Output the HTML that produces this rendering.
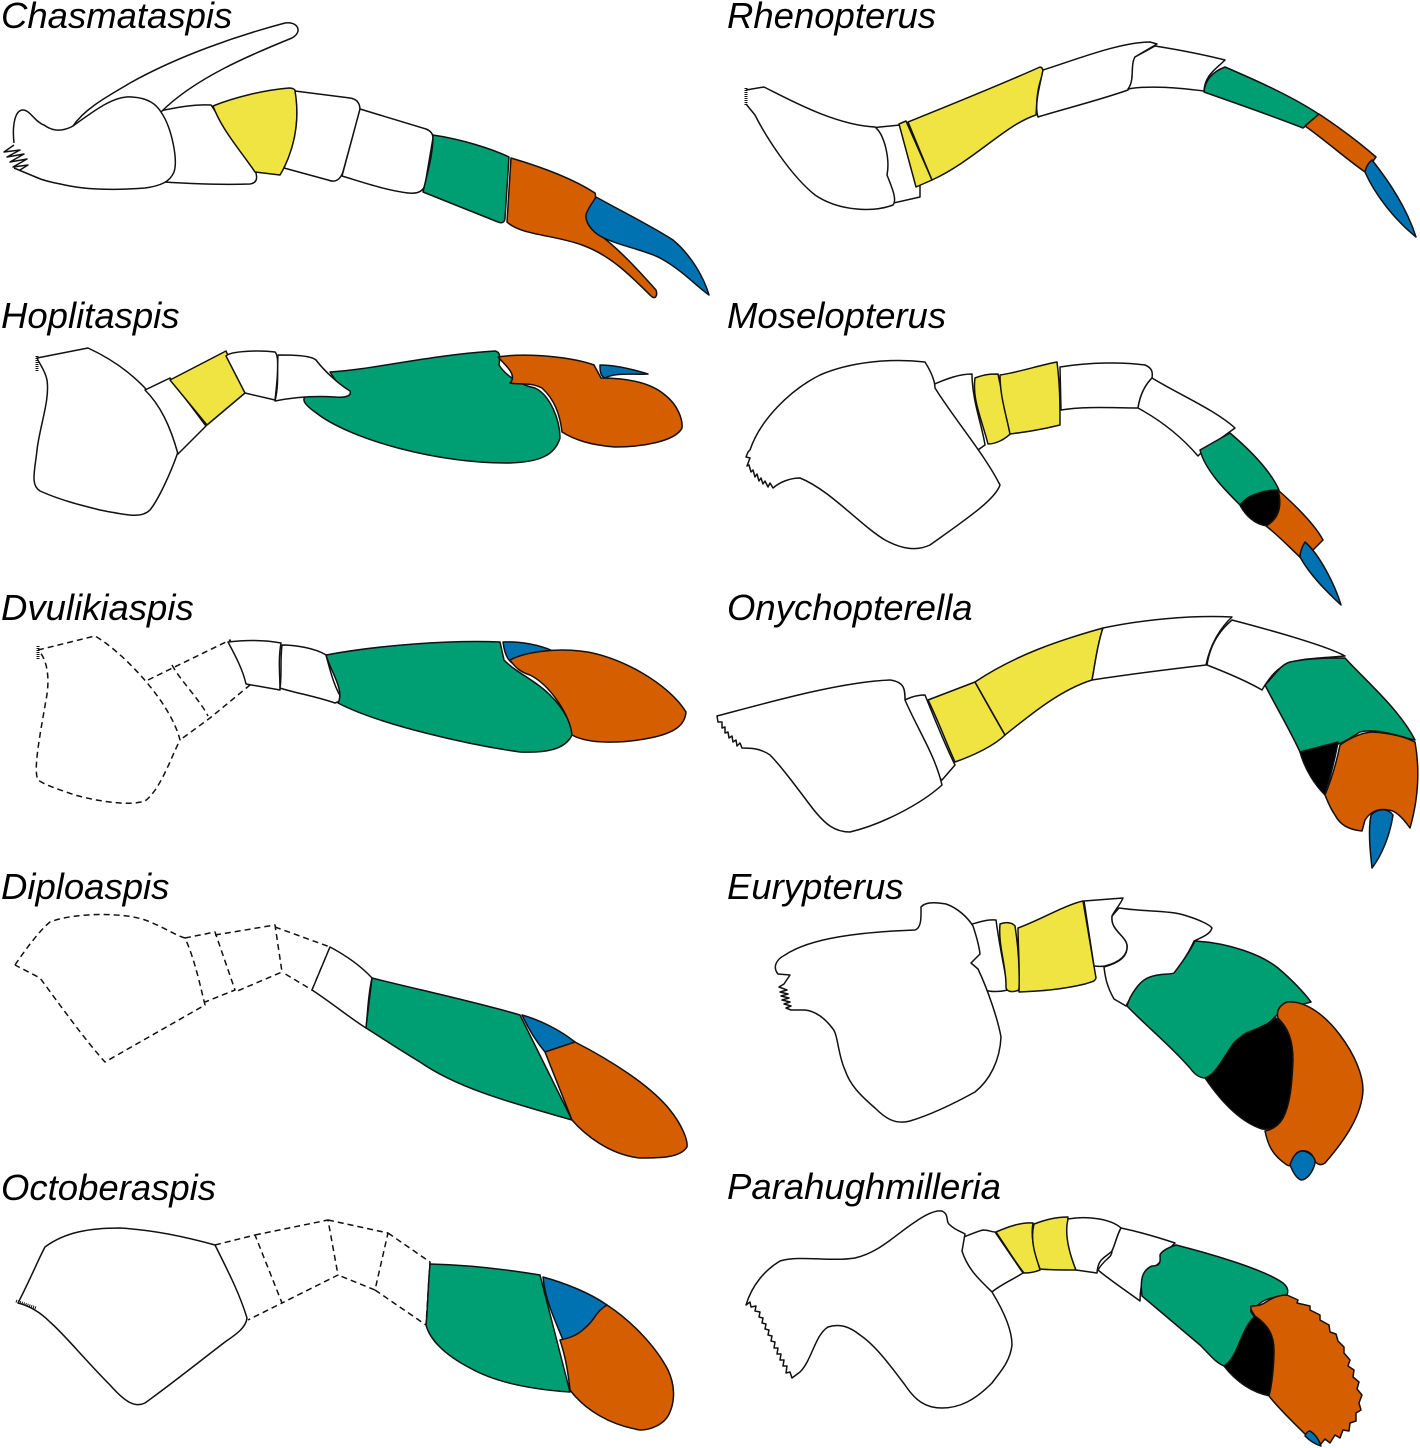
<!DOCTYPE html>
<html><head><meta charset="utf-8"><style>
html,body{margin:0;padding:0;background:#fff}
svg{display:block}
text{font-family:"Liberation Sans",sans-serif;font-style:italic;font-size:36.5px;fill:#000}
path{stroke:#111;stroke-width:1.5;stroke-linejoin:round;fill:#fff}
.y{fill:#f0e442}.g{fill:#009e73}.o{fill:#d55e00}.b{fill:#0072b2}.k{fill:#000}
.d{stroke-dasharray:6 4;fill:none}.n{fill:none}
</style></head><body>
<svg width="1420" height="1448" viewBox="0 0 1420 1448" xmlns="http://www.w3.org/2000/svg">
<text x="1" y="28">Chasmataspis</text>
<text x="727" y="28">Rhenopterus</text>
<text x="1" y="328">Hoplitaspis</text>
<text x="727" y="328">Moselopterus</text>
<text x="1" y="620">Dvulikiaspis</text>
<text x="727" y="620">Onychopterella</text>
<text x="1" y="899">Diploaspis</text>
<text x="727" y="899">Eurypterus</text>
<text x="1" y="1200">Octoberaspis</text>
<text x="727" y="1199">Parahughmilleria</text>

<!-- Chasmataspis -->
<path d="M150 113C178 107 195 104 211 105L255 170C258 178 257 183 250 184C220 185 190 184 150 181Z"/>
<path d="M14 143C12 125 15 110 23 110C30 110 35 122 44 125C52 131 62 132 73 126C85 108 110 95 130 83C180 55 240 35 285 23C298 21 303 32 292 38C250 55 195 78 161 112C172 128 178 160 174 172C170 182 160 186 145 188C120 190 90 190 70 186C55 183 45 181 38 178L14 168"/>
<path class="n" d="M73 126C95 110 115 95 132 97C148 98 156 104 161 112"/>
<path class="n" d="M14 145L4 152L20 150L7 157L24 154L10 162L27 159L13 167L28 165L20 170"/>
<path class="y" d="M213 106C235 97 265 90 289 88C294 88 296 90 296 94C299 125 295 150 280 175L255 172C240 150 222 130 213 106Z"/>
<path d="M295 91L350 98C357 99 360 103 360 110L343 172C340 180 335 183 328 180L284 168C295 145 300 120 295 91Z"/>
<path d="M360 109L426 129C431 131 433 134 433 138L425 185C423 192 417 194 408 193C385 190 365 183 342 176Z"/>
<path class="g" d="M433 135C460 139 490 148 509 157L505 218C505 222 502 224 498 222L423 192C428 170 433 155 433 135Z"/>
<path class="o" d="M511 158C545 168 575 180 595 193C598 203 588 208 587 217C586 225 592 230 600 235C620 250 640 272 656 290C658 296 655 300 651 296C630 275 610 255 582 245C555 235 520 235 507 222Z"/>
<path class="b" d="M596 197C625 213 655 228 673 240C692 256 704 278 709 295C695 285 682 270 660 258C645 250 620 246 604 238C590 232 583 218 587 212C589 207 593 202 596 197Z"/>

<!-- Rhenopterus -->
<path d="M870 128L900 125L920 186L920 197L880 206Z"/>
<path d="M746 90L764 87C790 100 835 125 875 127C885 135 890 160 887 175C893 190 897 200 893 205C875 212 840 212 815 195C790 175 765 135 755 115L746 104"/>
<path class="n" d="M746 88V106" style="stroke-width:3;stroke-dasharray:1 1"/>
<path class="y" d="M899 124L906 121L932 180L916 187Z"/>
<path class="y" d="M908 122C950 105 1000 85 1040 67C1044 68 1043 72 1042 76C1036 92 1037 105 1036 115C1005 125 975 160 932 180Z"/>
<path d="M1043 70C1075 60 1120 42 1150 42L1157 44L1135 57C1130 70 1135 80 1128 90C1100 100 1060 110 1038 117C1034 105 1040 85 1043 70Z"/>
<path d="M1135 57L1155 46C1180 50 1205 55 1225 60C1215 70 1205 75 1204 91C1180 88 1150 85 1128 89C1135 80 1130 65 1135 57Z"/>
<path class="g" d="M1225 67C1260 82 1295 98 1320 115L1303 128C1270 115 1235 103 1204 92C1205 80 1212 72 1225 67Z"/>
<path class="o" d="M1305 126L1319 114C1340 128 1360 143 1376 157L1365 172C1345 158 1325 140 1305 126Z"/>
<path class="b" d="M1372 160C1392 185 1408 212 1416 237C1395 220 1375 195 1365 172C1366 167 1368 163 1372 160Z"/>

<!-- Hoplitaspis -->
<path d="M37 358L88 348C125 365 170 400 178 452C170 475 158 500 150 510C142 518 130 516 100 510C80 505 60 500 40 491C30 485 35 470 37 450C40 425 50 400 47 380C45 370 40 365 37 358Z"/>
<path class="n" d="M37 356V372" style="stroke-width:3;stroke-dasharray:1 1"/>
<path d="M145 390L170 378L206 426L178 454C170 425 160 405 145 390Z"/>
<path class="y" d="M170 380L226 351L245 393L207 425Z"/>
<path d="M226 356C230 351 260 350 275 352C279 355 278 375 275 400L245 393Z"/>
<path class="g" d="M330 372C370 370 430 355 495 351C501 352 500 358 499 365C505 375 520 385 535 388C550 395 560 420 560 438C555 455 540 462 510 463C440 464 350 440 315 412C305 405 302 400 305 397C320 395 340 396 350 394C340 387 335 380 330 372Z"/>
<path d="M278 355C290 355 310 355 316 360C325 372 340 385 350 391C352 396 345 398 335 397C320 396 300 396 275 401C279 385 277 370 278 355Z"/>
<path class="o" d="M498 357C530 352 575 358 594 365L601 378C625 378 650 382 665 395C678 405 683 420 682 428C675 442 640 447 615 447C590 445 575 440 562 432C560 415 555 400 542 388C530 382 520 385 510 383C518 375 505 365 498 357Z"/>
<path class="b" d="M600 365C615 365 635 370 648 374C635 375 615 372 605 378C600 376 600 370 600 365Z"/>

<!-- Dvulikiaspis -->
<path class="d" d="M38 650L95 636C120 650 170 700 180 740C170 760 160 790 145 801C130 806 100 802 75 795C60 790 45 785 38 780C33 770 40 735 46 700C50 680 48 660 38 650"/>
<path class="d" d="M148 680L230 640L250 685L210 718L180 740M172 665C180 680 200 700 208 716"/>
<path class="n" d="M38 646V660" style="stroke-width:3;stroke-dasharray:1 1"/>
<path d="M228 642C245 640 265 640 281 643C278 660 280 675 280 690L246 684C243 670 235 655 228 642Z"/>
<path d="M282 645C295 645 315 648 326 655C330 670 335 690 343 700L335 703C315 696 295 693 280 688C282 675 280 660 282 645Z"/>
<path class="g" d="M326 655C380 645 450 640 500 642L504 660C515 672 535 680 550 695C565 710 572 725 572 735C565 750 545 753 520 752C470 745 380 725 338 703C345 690 330 670 326 655Z"/>
<path class="b" d="M503 642C520 641 540 645 553 651C540 652 525 658 515 665C510 662 505 658 503 642Z"/>
<path class="o" d="M510 660C525 652 555 648 580 651C620 655 670 685 686 712C685 725 675 733 650 738C625 743 590 745 572 735C570 715 550 685 530 675C520 672 515 667 510 660Z"/>

<!-- Diploaspis -->
<path class="d" d="M15 965C25 950 40 930 50 922C75 912 130 912 150 922C165 928 175 935 185 938C195 960 200 985 205 1005L105 1062C85 1040 60 1005 40 978L15 965"/>
<path class="d" d="M185 938L215 932L235 990L205 1002M215 935L275 925L282 972L235 992M275 927L330 947L312 990L282 972"/>
<path d="M330 947C345 955 360 965 372 978C368 995 368 1010 366 1028C350 1018 332 1003 312 990Z"/>
<path class="g" d="M372 978C420 990 480 1003 520 1015L572 1120C520 1105 460 1090 420 1062C400 1050 385 1040 366 1028C368 1010 370 995 372 978Z"/>
<path class="b" d="M522 1015C540 1020 560 1030 575 1042L545 1052C535 1040 528 1028 522 1015Z"/>
<path class="o" d="M545 1052L575 1042C610 1060 650 1085 670 1110C682 1125 688 1140 687 1147C680 1158 660 1158 640 1158C610 1155 585 1135 572 1120Z"/>

<!-- Octoberaspis -->
<path d="M18 1303C30 1280 38 1260 45 1247C65 1232 90 1228 120 1228C155 1230 190 1238 215 1245C230 1275 240 1295 247 1318C246 1328 235 1335 225 1342C195 1365 170 1385 145 1403C135 1408 125 1402 110 1385C85 1360 65 1335 50 1322C40 1312 30 1306 18 1303Z"/>
<path class="n" d="M16 1301L36 1308" style="stroke-width:3;stroke-dasharray:1 1"/>
<path class="d" d="M215 1245L255 1235L282 1303L248 1320M255 1235L328 1220L338 1275L282 1303M328 1220L388 1233L375 1290L338 1275M388 1233L430 1262L426 1325L375 1290"/>
<path class="g" d="M430 1264C470 1265 510 1270 540 1275L570 1392C540 1390 500 1385 470 1368C445 1355 430 1340 426 1325C428 1305 428 1285 430 1264Z"/>
<path class="b" d="M543 1277C565 1283 590 1293 607 1305C595 1312 595 1320 585 1328C578 1335 570 1338 563 1340C555 1320 545 1300 543 1277Z"/>
<path class="o" d="M607 1305C630 1320 655 1345 668 1370C675 1385 675 1400 670 1412C665 1425 650 1430 640 1430C610 1425 585 1410 570 1390C568 1370 565 1355 560 1340C570 1338 578 1335 585 1328C595 1320 595 1312 607 1305Z"/>

<!-- Moselopterus -->
<path d="M930 386C948 378 960 374 972 374C972 400 982 425 985 445L975 452L940 420Z"/>
<path d="M750 450C760 420 790 390 820 375C850 362 890 358 925 362C930 370 935 380 935 388C955 420 985 455 1000 485C995 500 965 520 930 545C915 552 900 548 885 540C860 525 830 490 800 478C790 478 780 482 773 488L770 483 768 487 765 481 763 484 761 478 759 481 757 474 755 477 753 470 751 472 749 465 747 466 750 458 746 457 748 452Z"/>
<path class="y" d="M975 378C985 374 992 374 998 374C1002 395 1008 415 1012 432C1005 440 995 444 988 444C982 420 972 400 975 378Z"/>
<path class="y" d="M1000 375C1020 372 1040 365 1057 362C1060 385 1060 405 1060 425C1040 430 1025 432 1010 434C1005 410 1000 395 1000 375Z"/>
<path d="M1060 367C1090 362 1125 362 1145 365C1152 368 1153 372 1152 378C1145 385 1140 395 1138 408C1115 408 1085 406 1061 410Z"/>
<path d="M1152 378C1180 395 1215 410 1235 428L1202 452L1198 456C1180 435 1160 420 1138 408C1140 395 1145 385 1152 378Z"/>
<path class="g" d="M1200 450L1230 433C1250 450 1270 470 1279 490C1265 492 1250 492 1240 505C1225 490 1205 470 1200 450Z"/>
<path class="k" d="M1240 505C1250 494 1265 490 1278 490C1282 505 1278 518 1268 526C1255 525 1245 515 1240 505Z"/>
<path class="o" d="M1278 490C1295 505 1315 525 1323 540L1303 560C1290 548 1278 535 1266 526C1280 518 1282 505 1278 490Z"/>
<path class="b" d="M1305 542C1320 555 1335 585 1341 605C1325 590 1310 575 1300 557C1300 552 1302 547 1305 542Z"/>

<!-- Onychopterella -->
<path d="M895 705C908 698 915 695 925 695C935 720 945 745 955 765L942 780L915 760Z"/>
<path d="M717 716C770 702 840 682 890 680C905 682 905 690 905 700C918 730 935 755 942 785C920 805 880 825 850 832C835 832 825 825 810 805C795 785 780 765 770 755C760 748 750 748 742 748L740 743 737 746 736 740 733 742 732 736 729 738 728 732 725 733 725 727 722 728 722 722 718 722Z"/>
<path class="y" d="M928 700L975 682C985 700 995 718 1005 735C995 745 975 755 955 762C945 740 938 720 928 700Z"/>
<path class="y" d="M975 682C1015 655 1060 640 1103 628C1097 645 1095 665 1092 680C1060 690 1030 715 1005 735Z"/>
<path d="M1103 628C1140 620 1190 615 1232 617C1220 628 1210 645 1206 665C1180 668 1125 675 1092 680C1095 665 1097 645 1103 628Z"/>
<path d="M1232 620C1270 630 1325 645 1345 656C1325 658 1295 658 1285 665C1275 670 1268 680 1262 690C1245 680 1225 672 1207 665C1210 645 1220 630 1232 620Z"/>
<path class="g" d="M1265 685C1275 675 1280 665 1290 662C1310 658 1330 658 1345 658C1365 680 1400 710 1415 740C1395 735 1375 728 1360 732C1350 738 1345 742 1338 744L1300 752C1290 730 1275 705 1265 685Z"/>
<path class="k" d="M1300 752L1338 742C1335 760 1330 778 1325 795C1315 785 1305 770 1300 752Z"/>
<path class="o" d="M1340 745C1350 738 1360 733 1372 732C1390 733 1405 737 1415 742C1420 770 1418 800 1410 828C1403 818 1395 810 1388 810C1378 808 1370 812 1365 820L1362 831C1350 830 1340 825 1335 815C1330 808 1328 802 1325 795C1332 778 1337 760 1340 745Z"/>
<path class="b" d="M1371 815C1378 808 1388 808 1393 815C1390 835 1382 855 1372 868C1370 850 1368 830 1371 815Z"/>

<!-- Eurypterus -->
<path d="M965 926C980 922 988 919 996 920C1000 950 1005 970 1008 990C1000 992 990 992 985 990L970 970Z"/>
<path d="M778 974C773 968 775 960 785 955C810 938 860 932 915 930C922 928 921 915 921 907C925 902 935 902 946 904C958 908 968 918 973 926C976 935 979 945 980 954L971 963L978 969C988 990 998 1020 1001 1037C1000 1060 990 1080 975 1092C955 1103 930 1115 910 1121C895 1125 885 1118 875 1108C860 1095 850 1085 845 1070C838 1055 838 1035 833 1029C825 1018 815 1011 805 1010H791L786 1008 791 1006 784 1004 790 1002 782 1000 789 998 781 996 788 994 780 992 787 990 779 987 784 984 790 975Z"/>
<path class="y" d="M1000 924C1005 922 1012 922 1015 926C1018 945 1020 970 1019 990C1012 993 1005 992 1006 985C1006 965 998 945 1000 924Z"/>
<path class="y" d="M1018 928C1040 920 1065 905 1083 901L1096 978C1095 982 1090 982 1085 984C1060 990 1040 991 1019 992C1020 970 1018 945 1018 928Z"/>
<path d="M1119 908C1145 912 1170 910 1187 916C1200 920 1210 925 1212 928C1210 935 1200 938 1194 941C1188 955 1180 965 1174 975C1155 975 1140 978 1126 1006L1114 999C1106 985 1105 975 1104 967C1122 962 1128 955 1127 945C1125 935 1110 930 1112 916Z"/>
<path d="M1084 901L1123 898C1120 905 1115 910 1112 916C1110 930 1125 935 1127 945C1128 955 1120 962 1105 966C1100 967 1097 966 1094 966Z"/>
<path class="g" d="M1195 941C1230 943 1262 955 1278 968C1292 980 1302 990 1311 1002C1300 1005 1285 1008 1280 1012C1272 1020 1265 1028 1255 1030C1240 1033 1232 1045 1225 1060C1220 1068 1215 1075 1205 1078C1200 1078 1195 1075 1190 1068C1170 1045 1145 1025 1127 1006C1130 995 1140 980 1150 977C1160 973 1170 975 1174 973C1180 965 1188 955 1195 941Z"/>
<path class="k" d="M1276 1018C1288 1028 1293 1040 1293 1060C1292 1085 1290 1105 1283 1118C1278 1127 1270 1130 1262 1129C1240 1122 1220 1100 1205 1078C1215 1075 1222 1060 1233 1044C1245 1030 1265 1028 1276 1018Z"/>
<path class="o" d="M1278 1018C1276 1010 1280 1005 1287 1002C1305 1000 1325 1015 1340 1035C1355 1055 1363 1075 1363 1090C1362 1115 1345 1140 1325 1163C1318 1168 1313 1160 1312 1155C1308 1150 1298 1148 1294 1157C1292 1162 1292 1168 1287 1165C1272 1155 1268 1145 1265 1131C1270 1130 1278 1127 1283 1118C1290 1105 1292 1085 1293 1060C1293 1040 1288 1028 1278 1018Z"/>
<path class="b" d="M1303 1151C1310 1152 1316 1158 1315 1163C1313 1172 1307 1180 1301 1180C1296 1178 1293 1172 1290 1165C1293 1155 1298 1151 1303 1151Z"/>

<!-- Parahughmilleria -->
<path d="M955 1240C970 1235 975 1232 983 1230C988 1230 992 1232 995 1232L1023 1273C1012 1280 1000 1285 992 1292L960 1270Z"/>
<path d="M746 1305C752 1285 765 1270 780 1261C800 1255 830 1262 855 1258C880 1252 895 1235 915 1222C925 1215 935 1210 942 1211C950 1215 945 1222 950 1225C955 1230 962 1232 965 1234L962 1251C968 1270 980 1280 992 1292C1003 1310 1012 1330 1012 1345C1010 1362 1000 1372 992 1383C975 1400 960 1408 942 1408C925 1408 915 1400 905 1385C890 1365 875 1345 860 1335C850 1327 840 1323 828 1327C815 1335 812 1360 800 1372L792 1378L790 1372 786 1373 787 1366 783 1366 784 1360 780 1360 781 1354 777 1354 778 1348 774 1348 775 1342 771 1341 772 1336 768 1335 769 1330 765 1329 766 1324 762 1323 763 1318 759 1317 760 1312 755 1311 756 1306 751 1307 750 1302Z"/>
<path class="y" d="M996 1232C1010 1226 1022 1222 1033 1223C1030 1240 1036 1255 1040 1270C1035 1272 1030 1273 1024 1273C1015 1262 1005 1245 996 1232Z"/>
<path class="y" d="M1034 1224C1045 1220 1055 1217 1068 1217C1066 1235 1070 1255 1076 1270C1065 1270 1050 1270 1040 1269C1035 1255 1030 1240 1034 1224Z"/>
<path d="M1068 1219C1085 1216 1110 1218 1121 1228C1117 1235 1115 1245 1112 1251C1105 1258 1098 1258 1097 1273L1076 1270C1070 1255 1064 1235 1068 1219Z"/>
<path d="M1121 1228C1140 1232 1160 1238 1175 1243C1168 1250 1162 1255 1160 1262C1155 1268 1150 1268 1146 1271C1142 1280 1140 1290 1140 1301C1125 1290 1110 1280 1098 1270C1105 1258 1112 1258 1112 1251C1115 1245 1117 1235 1121 1228Z"/>
<path class="g" d="M1176 1245C1215 1255 1265 1270 1283 1283C1289 1288 1288 1292 1287 1295C1275 1297 1265 1298 1258 1305C1252 1309 1250 1308 1251 1312L1255 1318C1240 1330 1240 1360 1224 1366C1215 1362 1210 1355 1200 1345L1142 1296C1140 1280 1142 1270 1152 1266C1162 1266 1160 1260 1160 1255C1162 1250 1170 1247 1176 1245Z"/>
<path class="k" d="M1255 1316C1268 1325 1274 1335 1274 1350C1274 1365 1272 1385 1270 1396C1250 1392 1235 1380 1224 1366C1238 1358 1240 1330 1255 1316Z"/>
<path class="o" d="M1251 1306C1258 1306 1262 1305 1266 1302C1272 1298 1280 1295 1287 1295L1298 1300L1297 1303L1310 1306L1310 1310L1320 1315L1320 1320L1329 1325L1330 1332L1336 1334L1338 1341L1344 1347L1344 1353L1350 1360L1348 1366L1354 1370L1353 1377L1359 1382L1357 1389L1362 1395L1359 1403L1361 1410L1356 1413L1356 1421L1350 1423L1349 1431L1343 1430L1340 1438L1335 1435L1330 1443L1325 1439L1320 1445L1315 1437L1306 1435C1296 1425 1280 1410 1269 1396C1272 1385 1274 1365 1274 1350C1274 1335 1268 1325 1255 1316C1252 1312 1250 1308 1251 1306Z"/>
<path class="b" d="M1310 1431C1315 1434 1319 1440 1321 1446C1314 1444 1308 1439 1305 1436C1306 1433 1308 1431 1310 1431Z"/>
</svg>
</body></html>
